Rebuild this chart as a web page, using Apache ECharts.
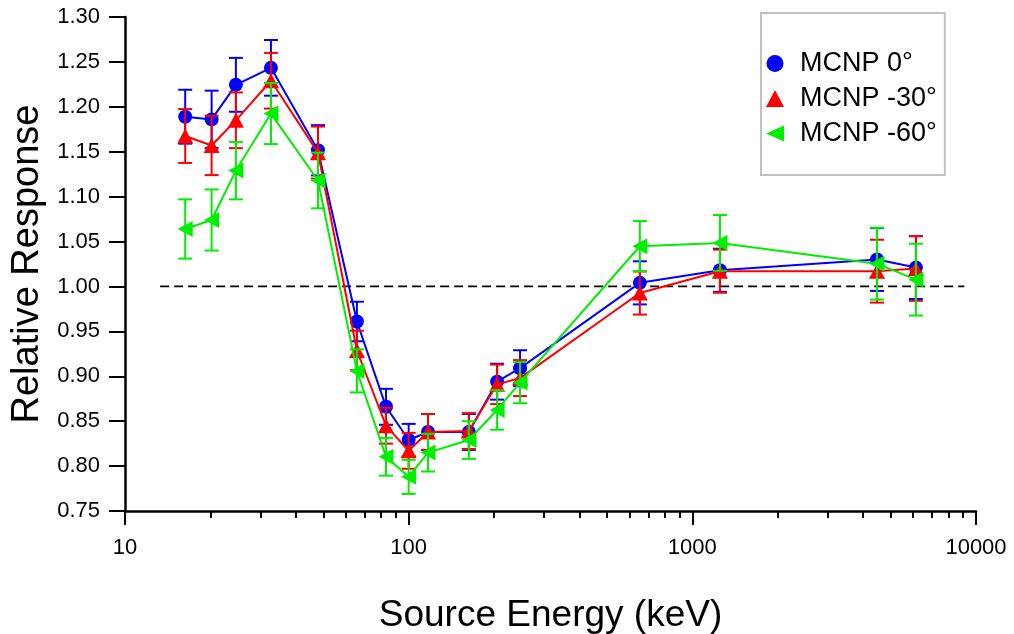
<!DOCTYPE html>
<html>
<head>
<meta charset="utf-8">
<script src="https://cdn.jsdelivr.net/npm/echarts@6/dist/echarts.min.js"></script>
<style>
html,body{margin:0;padding:0;background:#fff;}
#chart{width:1014px;height:634px;}
</style>
</head>
<body>
<div id="chart"></div>
<script>
// Source energies (keV)
const energies = [16.3, 20.2, 24.6, 32.7, 47.9, 65.7, 83.2, 100, 117, 163, 205, 247, 653, 1251, 4477, 6140];

// MCNP 0 deg
const mcnp0 = [1.189, 1.186, 1.2245, 1.2434, 1.1516, 0.961, 0.866, 0.829, 0.838, 0.838, 0.894, 0.909, 1.004, 1.018, 1.030, 1.021];
const mcnp0Err = [0.030, 0.032, 0.030, 0.031, 0.028, 0.022, 0.020, 0.018, 0.020, 0.020, 0.020, 0.020, 0.024, 0.024, 0.035, 0.035];

// MCNP -30 deg
const mcnp30 = [1.1675, 1.157, 1.185, 1.229, 1.149, 0.9287, 0.845, 0.817, 0.838, 0.839, 0.891, 0.898, 0.9927, 1.017, 1.017, 1.020];
const mcnp30Err = [0.030, 0.033, 0.031, 0.031, 0.029, 0.022, 0.020, 0.020, 0.020, 0.020, 0.022, 0.020, 0.024, 0.024, 0.035, 0.036];

// MCNP -60 deg
const mcnp60 = [1.064, 1.074, 1.129, 1.1925, 1.118, 0.906, 0.8104, 0.788, 0.815, 0.829, 0.8625, 0.893, 1.0448, 1.0485, 1.0254, 1.0076];
const mcnp60Err = [0.033, 0.034, 0.032, 0.034, 0.031, 0.024, 0.021, 0.019, 0.021, 0.021, 0.022, 0.023, 0.028, 0.031, 0.040, 0.040];

// Reference line (ideal response = 1)
const refLineX = [13.3, 9100];
const refLineY = [1.0, 1.0];

// Tick values
const xMajorTicks = [10, 100, 1000, 10000];
const xMinorTicks = [20, 30, 40, 50, 60, 70, 80, 90, 200, 300, 400, 500, 600, 700, 800, 900, 2000, 3000, 4000, 5000, 6000, 7000, 8000, 9000];
const yTicks = [0.75, 0.80, 0.85, 0.90, 0.95, 1.00, 1.05, 1.10, 1.15, 1.20, 1.25, 1.30];

const seriesNames = ['MCNP 0°', 'MCNP -30°', 'MCNP -60°'];
const colors = ['#0000ff', '#ff0000', '#00ee00'];
const leftTri = 'path://M0,8 L18,0 L18,16 Z';

const FONT = 'Liberation Sans, Arial, sans-serif';

function errSeries(name, vals, errs, color, z) {
  return {
    name: name,
    type: 'custom',
    z: z,
    silent: true,
    renderItem: function (params, api) {
      const x = api.value(0), y = api.value(1), e = api.value(2);
      const top = api.coord([x, y + e]);
      const bot = api.coord([x, y - e]);
      const hw = 7;
      const st = { stroke: color, lineWidth: 2 };
      return {
        type: 'group',
        children: [
          { type: 'line', shape: { x1: top[0], y1: top[1], x2: bot[0], y2: bot[1] }, style: st },
          { type: 'line', shape: { x1: top[0] - hw, y1: top[1], x2: top[0] + hw, y2: top[1] }, style: st },
          { type: 'line', shape: { x1: bot[0] - hw, y1: bot[1], x2: bot[0] + hw, y2: bot[1] }, style: st }
        ]
      };
    },
    encode: { x: 0, y: 1 },
    data: energies.map((en, i) => [en, vals[i], errs[i]])
  };
}

function lineSeries(name, vals, color, symbol, size, z) {
  return {
    name: name,
    type: 'line',
    z: z,
    symbol: symbol,
    symbolSize: size,
    showAllSymbol: true,
    lineStyle: { color: color, width: 2 },
    itemStyle: { color: color },
    data: energies.map((en, i) => [en, vals[i]])
  };
}

const chart = echarts.init(document.getElementById('chart'), null, { renderer: 'canvas' });

const option = {
  backgroundColor: '#ffffff',
  animation: false,
  textStyle: { fontFamily: FONT },
  grid: { left: 125, right: 38, top: 17, bottom: 123, containLabel: false, outerBoundsMode: 'none' },
  legend: {
    orient: 'vertical',
    left: 761,
    top: 13,
    padding: [37, 8, 28, 5],
    itemGap: 8,
    itemWidth: 18,
    itemHeight: 17,
    borderColor: '#c0c0c0',
    borderWidth: 2,
    backgroundColor: '#ffffff',
    textStyle: { fontSize: 27, color: '#000', fontFamily: FONT, padding: [0, 0, 0, 11] },
    data: [
      { name: seriesNames[0], icon: 'circle' },
      { name: seriesNames[1], icon: 'triangle' },
      { name: seriesNames[2], icon: leftTri }
    ]
  },
  xAxis: [
    {
      type: 'log',
      logBase: 10,
      min: 10,
      max: 10000,
      position: 'bottom',
      name: 'Source Energy (keV)',
      nameLocation: 'middle',
      nameGap: 86,
      nameTextStyle: { fontSize: 37, color: '#000', fontFamily: FONT },
      axisLine: { show: true, lineStyle: { color: '#000', width: 2.5 } },
      axisTick: { show: true, length: 14, lineStyle: { color: '#000', width: 2 }, customValues: xMajorTicks },
      axisLabel: {
        color: '#000', fontSize: 22, margin: 26, fontFamily: FONT,
        customValues: xMajorTicks,
        formatter: function (v) { return String(Math.round(v)); }
      },
      splitLine: { show: false },
      minorTick: { show: false },
      minorSplitLine: { show: false }
    },
    {
      type: 'log',
      logBase: 10,
      min: 10,
      max: 10000,
      position: 'bottom',
      offset: 0,
      axisLine: { show: false },
      axisTick: { show: true, length: 7, lineStyle: { color: '#000', width: 2 }, customValues: xMinorTicks },
      axisLabel: { show: false },
      splitLine: { show: false }
    }
  ],
  yAxis: {
    type: 'value',
    min: 0.75,
    max: 1.30,
    interval: 0.05,
    name: 'Relative Response',
    nameLocation: 'middle',
    nameGap: 77,
    nameTextStyle: { fontSize: 38, color: '#000', fontFamily: FONT },
    axisLine: { show: true, lineStyle: { color: '#000', width: 2.5 } },
    axisTick: { show: true, length: 16, lineStyle: { color: '#000', width: 2 }, customValues: yTicks },
    axisLabel: {
      color: '#000', fontSize: 22, margin: 25, fontFamily: FONT,
      customValues: yTicks,
      formatter: function (v) { return v.toFixed(2); }
    },
    splitLine: { show: false }
  },
  series: [
    {
      name: 'ref',
      type: 'line',
      silent: true,
      symbol: 'none',
      z: 1,
      lineStyle: { color: '#000', width: 1.8, type: [9, 5] },
      data: refLineX.map((x, i) => [x, refLineY[i]])
    },
    errSeries('err0', mcnp0, mcnp0Err, colors[0], 2),
    lineSeries(seriesNames[0], mcnp0, colors[0], 'circle', 14, 3),
    errSeries('err30', mcnp30, mcnp30Err, colors[1], 4),
    lineSeries(seriesNames[1], mcnp30, colors[1], 'triangle', [16, 15], 5),
    errSeries('err60', mcnp60, mcnp60Err, colors[2], 6),
    lineSeries(seriesNames[2], mcnp60, colors[2], leftTri, [15, 16], 7)
  ]
};

chart.setOption(option);
</script>
</body>
</html>
